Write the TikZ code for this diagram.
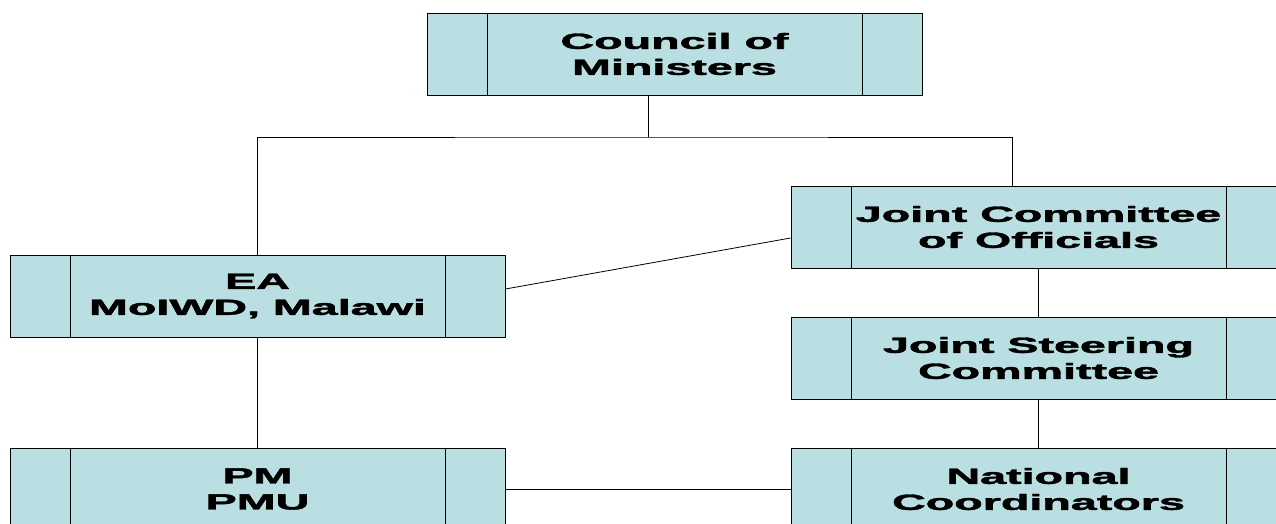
\documentclass[tikz,border=0pt]{standalone}
\usepackage{fontspec}
\setmainfont[BoldFeatures={FakeBold=1.6}]{Liberation Sans}
\usepackage{tikz}
\usetikzlibrary{positioning,calc}
\definecolor{boxfill}{RGB}{186,223,226}
\newcommand{\wl}[1]{\scalebox{2.12}[1]{#1}}
\tikzset{orgbox/.style={draw,line width=0.9pt,fill=boxfill,minimum width=495pt,minimum height=82pt,inner sep=0pt,align=center,
		font=\bfseries\fontsize{22}{26}\selectfont,
		path picture={\draw[line width=0.9pt] ([xshift=60pt]path picture bounding box.north west) -- ([xshift=60pt]path picture bounding box.south west);
			\draw[line width=0.9pt] ([xshift=-60pt]path picture bounding box.north east) -- ([xshift=-60pt]path picture bounding box.south east);}},
	link/.style={line width=0.8pt}}
\begin{document}
\begin{tikzpicture}[x=1pt,y=-1pt]
				\useasboundingbox (0,0) rectangle (1276,524);
				\clip (0,0) rectangle (1276,524);
				\node[orgbox] (com) at (674.5,54) {\wl{Council of}\\\wl{Ministers}};
				\node[orgbox] (jco) at (1038.5,227) {\wl{Joint Committee}\\\wl{of Officials}};
				\node[orgbox] (jsc) at (1038.5,358) {\wl{Joint Steering}\\\wl{Committee}};
				\node[orgbox] (nco) at (1038.5,489) {\wl{National}\\\wl{Coordinators}};
				\node[orgbox] (ea) at (257.5,296) {\wl{EA}\\\wl{MoIWD, Malawi}};
				\node[orgbox] (pmu) at (257.5,489) {\wl{PM}\\\wl{PMU}};
				\coordinate (bus) at (648,137);
				\draw[link] (com.south -| bus) -- (bus);
				\draw[link] (ea.north) |- (bus) -| ([xshift=-26.5pt]jco.north);
				\draw[link] ([yshift=7pt]ea.east) -- ([yshift=-11pt]jco.west);
				\draw[link] (jco.south) -- (jsc.north);
				\draw[link] (jsc.south) -- (nco.north);
				\draw[link] (ea.south) -- (pmu.north);
				\draw[link] (pmu.east) -- (nco.west);
				\end{tikzpicture}
\end{document}
